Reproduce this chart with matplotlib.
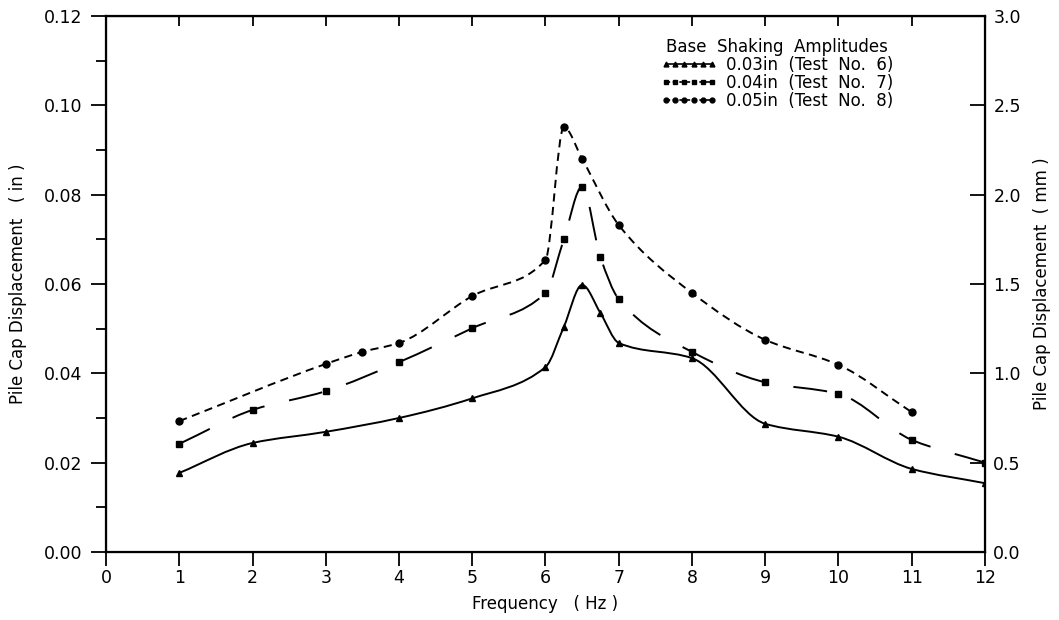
import numpy as np
import matplotlib
matplotlib.use("Agg")
import matplotlib.pyplot as plt
from matplotlib.path import Path
from matplotlib.patches import PathPatch
from matplotlib.lines import Line2D

plt.rcParams['font.family'] = ['DejaVu Sans']

# values (in)
freq_6 = [1, 2, 3, 4, 5, 6, 6.25, 6.5, 6.75, 7, 8, 9, 10, 11, 12]
disp_6 = [0.0177, 0.0244, 0.0269, 0.0300, 0.0344, 0.0414, 0.0504, 0.0598,
          0.0535, 0.0468, 0.0434, 0.0287, 0.0258, 0.0186, 0.0154]

freq_7 = [1, 2, 3, 4, 5, 6, 6.25, 6.5, 6.75, 7, 8, 9, 10, 11, 12]
disp_7 = [0.0242, 0.0318, 0.0360, 0.0425, 0.0501, 0.0580, 0.0700, 0.0818,
          0.0660, 0.0566, 0.0448, 0.0380, 0.0354, 0.0251, 0.0200]

freq_8 = [1, 3, 3.5, 4, 5, 6, 6.25, 6.5, 7, 8, 9, 10, 11]
disp_8 = [0.0293, 0.0421, 0.0448, 0.0468, 0.0573, 0.0654, 0.0951, 0.0880,
          0.0732, 0.0580, 0.0475, 0.0419, 0.0313]

labels = ["0.03in  (Test  No.  6)", "0.04in  (Test  No.  7)", "0.05in  (Test  No.  8)"]
x_ticks = list(range(0, 13))
y_ticks = [0.00, 0.02, 0.04, 0.06, 0.08, 0.10, 0.12]
mm_ticks = [0.0, 0.5, 1.0, 1.5, 2.0, 2.5, 3.0]


def smooth_path(x, y):
    # monotone cubic (hermite) segments, handed to matplotlib as bezier curves
    x = np.asarray(x, float)
    y = np.asarray(y, float)
    h = np.diff(x)
    d = np.diff(y) / h
    m = np.zeros_like(y)
    m[0], m[-1] = d[0], d[-1]
    for i in range(1, len(x) - 1):
        if d[i - 1] * d[i] > 0:
            w1 = 2 * h[i] + h[i - 1]
            w2 = h[i] + 2 * h[i - 1]
            m[i] = (w1 + w2) / (w1 / d[i - 1] + w2 / d[i])
    verts = [(x[0], y[0])]
    codes = [Path.MOVETO]
    for i in range(len(x) - 1):
        verts += [(x[i] + h[i] / 3, y[i] + m[i] * h[i] / 3),
                  (x[i + 1] - h[i] / 3, y[i + 1] - m[i + 1] * h[i] / 3),
                  (x[i + 1], y[i + 1])]
        codes += [Path.CURVE4] * 3
    return Path(verts, codes)


fig = plt.figure(figsize=(10.59, 6.2), dpi=100)
ax = fig.add_axes([0.1001, 0.1097, 0.8300, 0.8645])

lw = 1.4
series = [
    (freq_6, disp_6, '-', '^', 4.5),
    (freq_7, disp_7, (0, (17.5, 13.0)), 's', 4.5),
    (freq_8, disp_8, (0, (4.2, 2.8)), 'o', 5),
]
handles = []
for (fx, fy, ls, mk, ms), lab in zip(series, labels):
    ax.add_patch(PathPatch(smooth_path(fx, fy), fill=False, ec='black', lw=lw, ls=ls))
    ax.plot(fx, fy, ls='none', marker=mk, ms=ms, color='black')
    handles.append(Line2D([], [], color='black', lw=1.2,
                          ls='-' if ls == '-' else (0, (2.5, 1.5)),
                          marker=mk, ms=3.5))

ax.set_xlim(0, 12)
ax.set_ylim(0, 0.12)
ax.set_xticks(x_ticks)
ax.set_yticks(y_ticks)
ax.set_yticks(np.arange(0.01, 0.12, 0.02), minor=True)
ax.set_yticklabels([f"{v:.2f}" for v in y_ticks])
ax.tick_params(axis='x', direction='out', length=10, width=1.3, labelsize=12.5, pad=2)
ax.tick_params(axis='y', which='major', direction='out', length=11, width=1.3,
               labelsize=12.5, pad=6)
ax.tick_params(axis='y', which='minor', direction='out', length=7, width=1.3)
for sp in ax.spines.values():
    sp.set_linewidth(1.6)

top = ax.secondary_xaxis('top')
top.set_xticks(x_ticks)
top.tick_params(direction='in', length=7, width=1.3, labeltop=False)

ax2 = ax.twinx()
ax2.set_ylim(0, 3.0)
ax2.set_yticks(mm_ticks)
ax2.set_yticklabels([f"{v:.1f}" for v in mm_ticks])
ax2.tick_params(axis='y', direction='in', length=11, width=1.3, labelsize=12.5, pad=6)

ax.set_xlabel("Frequency   ( Hz )", fontsize=12, labelpad=6)
ax.set_ylabel("Pile Cap Displacement   ( in )", fontsize=12, labelpad=12)
ax2.set_ylabel("Pile Cap Displacement  ( mm )", fontsize=12, labelpad=9)

leg = ax.legend(handles, labels, title="Base  Shaking  Amplitudes", loc='upper right',
                bbox_to_anchor=(0.905, 0.975), frameon=False, numpoints=6,
                handlelength=3.4, handletextpad=0.5, labelspacing=0.0,
                borderpad=0, fontsize=12, title_fontsize=12)

fig.savefig("out.png", dpi=100)
